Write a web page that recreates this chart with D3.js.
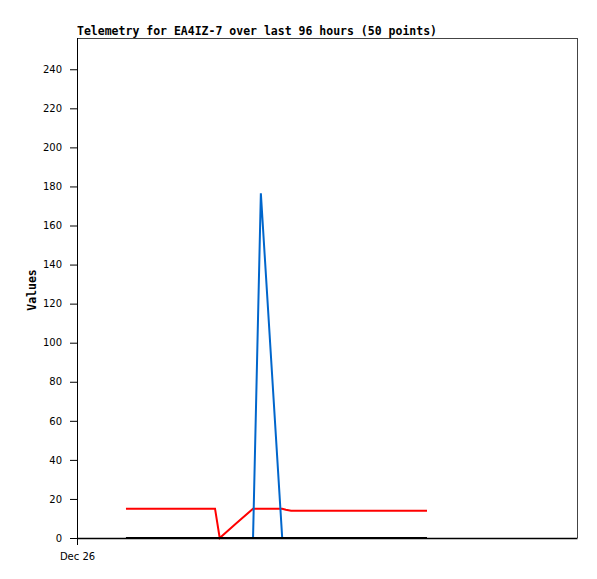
<!DOCTYPE html>
<html>
<head>
<meta charset="utf-8">
<script src="https://cdn.jsdelivr.net/npm/d3@7"></script>
<style>
    body { margin: 0; background: #fff; }
    .tick text { font-family: "DejaVu Sans", sans-serif; font-size: 10px; fill: #000; }
</style>
</head>
<body>
<div id="chart"></div>
<script>
// data: hours after Dec 26 00:00 and the three series
const hours     = [9.4, 26.5, 27.4, 30.7, 33.8, 35.3, 39.4, 40.1, 41.1, 67.2];
const redVals   = [15, 15, 0, 7.8, 15, 15, 15, 14.5, 14, 14];
const blueVals  = [0, 0, 0, 0, 0, 176.5, 0, 0, 0, 0];
const blackVals = [0, 0, 0, 0, 0, 0, 0, 0, 0, 0];
const yTicks = [0, 20, 40, 60, 80, 100, 120, 140, 160, 180, 200, 220, 240];
const xTickLabels = ["Dec 26"];

const start = Date.UTC(2023, 11, 26);
const toDate = h => new Date(start + h * 3600e3);

// define margins
let margin = {top: 38, right: 20, bottom: 41, left: 77},
    width = 597 - margin.left - margin.right,
    height = 579 - margin.top - margin.bottom;

let svg = d3.select("#chart")
    .append("svg")
    .attr("width", 597)
    .attr("height", 579)
    .append("g")
    .attr("transform", "translate(" + margin.left + "," + margin.top + ")");

let x = d3.scaleUtc()
    .domain([toDate(0), toDate(96)])
    .range([0, width]);

let y = d3.scaleLinear()
    .domain([0, 256])
    .range([height, 0]);

// frame top and right in grey
svg.append("path")
    .attr("d", "M0,0.5H" + (width + 0.5) + "V" + height)
    .attr("fill", "none")
    .attr("stroke", "#444")
    .attr("shape-rendering", "crispEdges");

// series
const series = [
    {vals: redVals, color: "#ff0000"},
    {vals: blueVals, color: "#0066cc"},
    {vals: blackVals, color: "#000000"}
];

let line = d3.line()
    .x(d => x(toDate(d[0])))
    .y(d => y(d[1]));

series.forEach(s => {
    svg.append("path")
        .datum(hours.map((h, i) => [h, s.vals[i]]))
        .attr("fill", "none")
        .attr("stroke", s.color)
        .attr("stroke-width", 2)
        .attr("d", line);
});

// y axis
let yAxis = svg.append("g")
    .call(d3.axisLeft(y).tickValues(yTicks).tickSize(7).tickPadding(8).tickSizeOuter(0));
yAxis.select(".domain").attr("stroke", "#000").attr("d", "M0.5,0V" + (height + 7));
yAxis.selectAll(".tick line").attr("stroke", "#000");

// x axis
let xAxis = svg.append("g")
    .attr("transform", "translate(0," + height + ")")
    .call(d3.axisBottom(x).tickValues([toDate(0)]).tickFormat((d, i) => xTickLabels[i]).tickSize(7).tickPadding(8).tickSizeOuter(0));
xAxis.select(".domain").attr("stroke", "#000").attr("stroke-width", 1.5);
xAxis.selectAll(".tick line").attr("stroke", "#000");

// title
svg.append("text")
    .attr("x", 0)
    .attr("y", -3)
    .style("font-family", "'DejaVu Sans Mono', monospace")
    .style("font-weight", "bold")
    .style("font-size", "11.5px")
    .text("Telemetry for EA4IZ-7 over last 96 hours (50 points)");

// y label
svg.append("text")
    .attr("transform", "translate(-41," + (height / 2 + 2) + ") rotate(-90)")
    .attr("text-anchor", "middle")
    .style("font-family", "'DejaVu Sans Mono', monospace")
    .style("font-weight", "bold")
    .style("font-size", "11.5px")
    .text("Values");
</script>
</body>
</html>
